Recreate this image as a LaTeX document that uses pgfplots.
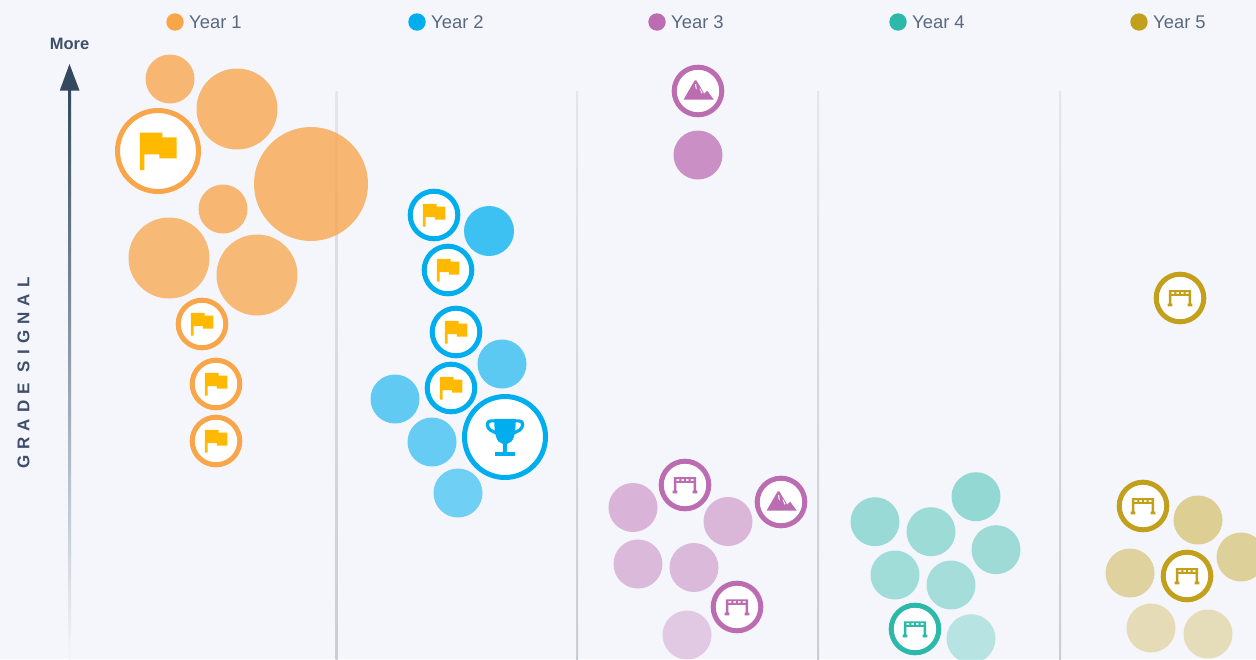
\documentclass[border=0pt]{standalone}
\usepackage{pgfplots}
\usepackage{pgfplotstable}
\usepackage{fontspec}
\pgfplotsset{compat=1.18}
\setmainfont{Liberation Sans}
\definecolor{bg}{HTML}{F4F6FB}
\definecolor{cA}{HTML}{F9A54A}
\definecolor{cB}{HTML}{00AEEF}
\definecolor{cC}{HTML}{BC6DB2}
\definecolor{cD}{HTML}{2DB9A9}
\definecolor{cE}{HTML}{C3A01C}
\definecolor{flagc}{HTML}{FFB900}
\definecolor{arrowc}{HTML}{34495E}
\definecolor{gridc}{HTML}{CACDD3}
\definecolor{gridt}{HTML}{E4E6EA}
\definecolor{legc}{HTML}{5A6980}
\definecolor{labc}{HTML}{3F4F6B}
% icon marks, in units of the ring's outer radius
\newcommand\Mv[2]{\pgfpathmoveto{\pgfqpoint{#1\pgfplotmarksize}{#2\pgfplotmarksize}}}
\newcommand\Lnn[2]{\pgfpathlineto{\pgfqpoint{#1\pgfplotmarksize}{#2\pgfplotmarksize}}}
\newcommand\Cv[6]{\pgfpathcurveto{\pgfqpoint{#1\pgfplotmarksize}{#2\pgfplotmarksize}}{\pgfqpoint{#3\pgfplotmarksize}{#4\pgfplotmarksize}}{\pgfqpoint{#5\pgfplotmarksize}{#6\pgfplotmarksize}}}
\newcommand\Rc[4]{\Mv{#1}{#2}\Lnn{#3}{#2}\Lnn{#3}{#4}\Lnn{#1}{#4}\pgfpathclose}
\pgfdeclareplotmark{disc}{\pgfpathcircle{\pgfpointorigin}{\pgfplotmarksize}\pgfusepathqfill}
\pgfdeclareplotmark{flag}{%
  \Mv{-0.419}{0.426}\Lnn{0.101}{0.426}\Lnn{0.101}{0.318}\Lnn{0.434}{0.318}\Lnn{0.434}{-0.171}%
  \Lnn{0.031}{-0.171}\Lnn{0.031}{-0.078}\Lnn{-0.318}{-0.078}\Lnn{-0.318}{-0.442}\Lnn{-0.419}{-0.442}\pgfpathclose
  \pgfusepathqfill}
\pgfdeclareplotmark{trophy}{%
  \Mv{-0.25}{0.42}\Lnn{0.25}{0.42}\Cv{0.25}{0.05}{0.20}{-0.13}{0.05}{-0.16}\Lnn{0.05}{-0.35}%
  \Lnn{0.23}{-0.35}\Lnn{0.23}{-0.44}\Lnn{-0.23}{-0.44}\Lnn{-0.23}{-0.35}\Lnn{-0.05}{-0.35}\Lnn{-0.05}{-0.16}%
  \Cv{-0.20}{-0.13}{-0.25}{0.05}{-0.25}{0.42}\pgfpathclose\pgfusepathqfill
  \pgfsetlinewidth{0.075\pgfplotmarksize}%
  \Mv{0.22}{0.375}\Lnn{0.33}{0.375}\Cv{0.44}{0.375}{0.43}{0.22}{0.34}{0.16}\Lnn{0.18}{0.08}%
  \Mv{-0.22}{0.375}\Lnn{-0.33}{0.375}\Cv{-0.44}{0.375}{-0.43}{0.22}{-0.34}{0.16}\Lnn{-0.18}{0.08}%
  \pgfusepathqstroke}
\pgfdeclareplotmark{arch}{%
  \Rc{-0.42}{0.295}{0.42}{0.22}\Rc{-0.42}{0.155}{0.42}{0.08}%
  \Rc{-0.42}{0.295}{-0.33}{-0.25}\Rc{0.33}{0.295}{0.42}{-0.25}%
  \Rc{-0.21}{0.295}{-0.14}{0.08}\Rc{-0.035}{0.295}{0.035}{0.08}\Rc{0.14}{0.295}{0.21}{0.08}%
  \Rc{-0.47}{-0.21}{-0.29}{-0.32}\Rc{0.29}{-0.21}{0.47}{-0.32}%
  \pgfusepathqfill}
\pgfdeclareplotmark{mountain}{%
  \Mv{-0.55}{-0.33}\Lnn{-0.13}{0.40}\Lnn{-0.06}{0.40}\Lnn{0.18}{0.0}\Lnn{0.23}{-0.11}\Lnn{0.35}{0.01}\Lnn{0.60}{-0.33}\pgfpathclose
  \pgfusepathqfill}
\pgfdeclareplotmark{snow}{%
  \Mv{-0.11}{0.26}\Lnn{-0.07}{0.27}\Lnn{-0.05}{0.06}\Lnn{-0.09}{0.09}\pgfpathclose
  \Mv{0.06}{0.10}\Lnn{0.09}{0.09}\Lnn{0.17}{-0.08}\Lnn{0.13}{-0.10}\pgfpathclose
  \pgfusepathqfill}
% bubbles: x y r o
\pgfplotstableread{
x y r o
170 79 24.5 0.77
237 109 40.5 0.77
311 184 57 0.77
223 209 24.5 0.77
169 258 40.5 0.75
257 275 40.5 0.75
}\tA
\pgfplotstableread{
x y r o
489 231 25 0.75
502 364 24.5 0.62
395 399 24.5 0.60
432 442 24.5 0.58
458 493 24.5 0.54
}\tB
\pgfplotstableread{
x y r o
698 155 24.5 0.75
633 507.5 24.5 0.48
728 521.5 24.5 0.46
638 564 24.5 0.44
694 567.5 24.5 0.44
687 635 24.5 0.32
}\tC
\pgfplotstableread{
x y r o
976 496.7 24.5 0.48
875 521.7 24.5 0.45
931 531.7 24.5 0.44
996 549.7 24.5 0.43
895 575 24.5 0.42
951 585 24.5 0.40
971 638.7 24.5 0.30
}\tD
\pgfplotstableread{
x y r o
1198 520 24.5 0.46
1241 557 24.5 0.44
1130 573 24.5 0.41
1151 628 24.5 0.30
1208 634 24.5 0.29
}\tE
% icon rings: x y r R
\pgfplotstableread{
x y r R
158 151 40.5 43
202 324 23.8 26.3
216 384 23.8 26.3
216 441 23.8 26.3
}\iA
\pgfplotstableread{
x y r R
434 215 23.8 26.3
448 270 23.8 26.3
456 332 23.8 26.3
451 388 23.8 26.3
}\iB
\pgfplotstableread{
x y r R
505 437 40.5 43
}\iBt
\pgfplotstableread{
x y r R
698 91 23.8 26.3
781 502 23.8 26.3
}\iCm
\pgfplotstableread{
x y r R
685 485 23.8 26.3
737 607 23.8 26.3
}\iCa
\pgfplotstableread{
x y r R
915 629 23.8 26.3
}\iD
\pgfplotstableread{
x y r R
1180 298 23.8 26.3
1143 506 23.8 26.3
1187 576 23.8 26.3
}\iE
\pgfplotsset{
  bubbles/.style={scatter, only marks, mark=disc, scatter src=y,
    scatter/use mapped color={draw=none, fill=#1},
    visualization depends on={\thisrow{r}\as\rr},
    visualization depends on={\thisrow{o}\as\oo},
    scatter/@pre marker code/.append style={/tikz/mark size=\rr, /utils/exec={\pgfsetfillopacity{\oo}}}},
  rings/.style={scatter, only marks, mark=*, scatter src=y,
    scatter/use mapped color={draw=#1, fill=white, line width=5pt},
    visualization depends on={\thisrow{r}\as\rr},
    scatter/@pre marker code/.append style={/tikz/mark size=\rr}},
  icons/.style 2 args={scatter, only marks, mark=#1, scatter src=y,
    scatter/use mapped color={draw=#2, fill=#2},
    visualization depends on={\thisrow{R}\as\rr},
    scatter/@pre marker code/.append style={/tikz/mark size=\rr}},
}
\begin{document}
\begin{tikzpicture}
\useasboundingbox (0,0) rectangle (1256pt,659pt);
\begin{axis}[
  at={(0,0)}, anchor=south west,
  width=1256pt, height=659pt, scale only axis,
  xmin=0, xmax=1256, ymin=0, ymax=659, y dir=reverse,
  ticks=none, axis line style={draw=none},
  axis background/.style={fill=bg},
  clip=true,
]
% grid lines
\addplot[draw=none, top color=gridt, bottom color=gridc] coordinates {(335.7,91)(337.5,91)(337.5,659)(335.7,659)} -- cycle;
\addplot[draw=none, top color=gridt, bottom color=gridc] coordinates {(576.2,91)(578,91)(578,659)(576.2,659)} -- cycle;
\addplot[draw=none, top color=gridt, bottom color=gridc] coordinates {(817.2,91)(819,91)(819,659)(817.2,659)} -- cycle;
\addplot[draw=none, top color=gridt, bottom color=gridc] coordinates {(1059.2,91)(1061,91)(1061,659)(1059.2,659)} -- cycle;
% arrow
\addplot[draw=none, top color=arrowc, bottom color=bg] coordinates {(68,88)(71,88)(71,659)(68,659)} -- cycle;
\addplot[draw=none, fill=arrowc] coordinates {(69.5,64)(79.5,90.5)(59.8,90.5)} -- cycle;
% legend dots
\addplot[only marks, mark=disc, mark size=8.7pt, mark options={draw=none, fill=cA}] coordinates {(175,22)};
\addplot[only marks, mark=disc, mark size=8.7pt, mark options={draw=none, fill=cB}] coordinates {(417,22)};
\addplot[only marks, mark=disc, mark size=8.7pt, mark options={draw=none, fill=cC}] coordinates {(657,22)};
\addplot[only marks, mark=disc, mark size=8.7pt, mark options={draw=none, fill=cD}] coordinates {(898,22)};
\addplot[only marks, mark=disc, mark size=8.7pt, mark options={draw=none, fill=cE}] coordinates {(1139,22)};
% bubbles
\addplot[bubbles=cA] table[x=x,y=y] {\tA};
\addplot[bubbles=cB] table[x=x,y=y] {\tB};
\addplot[bubbles=cC] table[x=x,y=y] {\tC};
\addplot[bubbles=cD] table[x=x,y=y] {\tD};
\addplot[bubbles=cE] table[x=x,y=y] {\tE};
% icon bubbles
\addplot[rings=cA] table[x=x,y=y] {\iA};
\addplot[icons={flag}{flagc}] table[x=x,y=y] {\iA};
\addplot[rings=cB] table[x=x,y=y] {\iB};
\addplot[icons={flag}{flagc}] table[x=x,y=y] {\iB};
\addplot[rings=cB] table[x=x,y=y] {\iBt};
\addplot[icons={trophy}{cB}] table[x=x,y=y] {\iBt};
\addplot[rings=cC] table[x=x,y=y] {\iCm};
\addplot[icons={mountain}{cC}] table[x=x,y=y] {\iCm};
\addplot[icons={snow}{white}] table[x=x,y=y] {\iCm};
\addplot[rings=cC] table[x=x,y=y] {\iCa};
\addplot[icons={arch}{cC}] table[x=x,y=y] {\iCa};
\addplot[rings=cD] table[x=x,y=y] {\iD};
\addplot[icons={arch}{cD}] table[x=x,y=y] {\iD};
\addplot[rings=cE] table[x=x,y=y] {\iE};
\addplot[icons={arch}{cE}] table[x=x,y=y] {\iE};
% texts
\newcommand\legt[2]{\node[anchor=base west, inner sep=0pt, text=legc, font=\fontsize{18.4}{20}\selectfont] at (axis cs:#1,28) {#2};}
\legt{189}{Year 1}
\legt{431}{Year 2}
\legt{671}{Year 3}
\legt{912}{Year 4}
\legt{1153}{Year 5}
\node[inner sep=0pt, text=labc, font=\fontsize{16.5}{18}\selectfont\bfseries] at (axis cs:69.5,44) {More};
\node[rotate=90, inner sep=0pt, text=labc, font=\fontsize{17}{20}\selectfont\bfseries\addfontfeature{LetterSpace=36}] at (axis cs:23.5,373) {GRADE SIGNAL};
\end{axis}
\end{tikzpicture}
\end{document}
